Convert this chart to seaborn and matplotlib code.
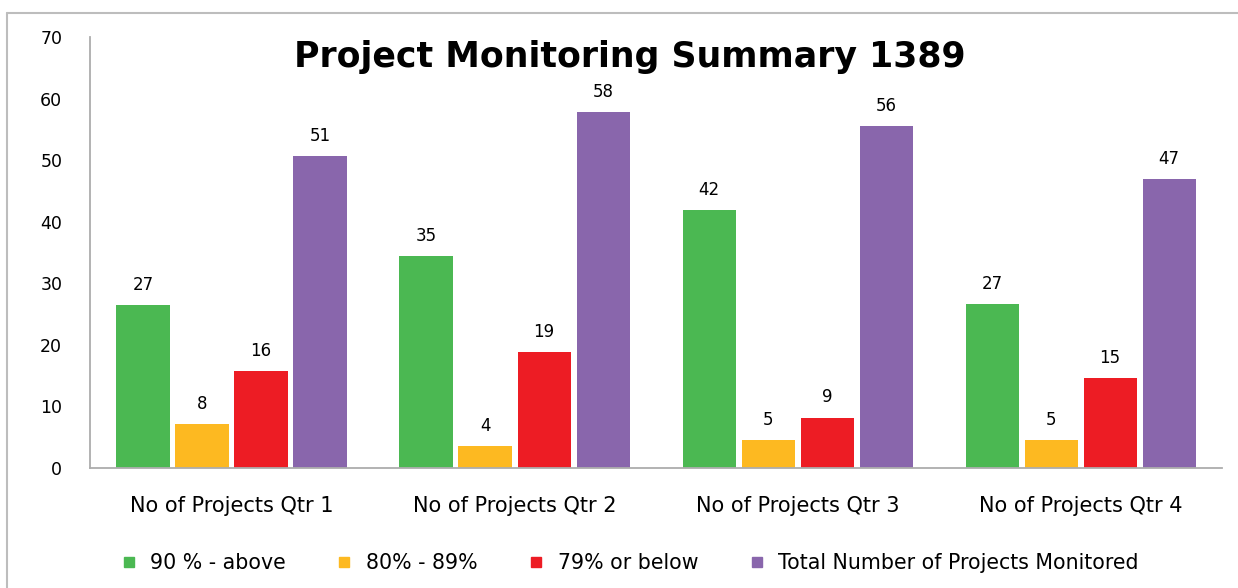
import matplotlib
matplotlib.use('Agg')
import matplotlib.pyplot as plt
from matplotlib.lines import Line2D
import seaborn as sns
import pandas as pd


quarters = ["No of Projects Qtr 1", "No of Projects Qtr 2", "No of Projects Qtr 3", "No of Projects Qtr 4"]
series = ["90 % - above", "80% - 89%", "79% or below", "Total Number of Projects Monitored"]

# bar heights, labels as printed above the bars
above_90 = [26.4, 34.5, 41.9, 26.6]
range_80_89 = [7.2, 3.5, 4.5, 4.5]
below_79 = [15.7, 18.8, 8.2, 14.6]
total = [50.6, 57.8, 55.6, 46.9]

label_above_90 = ["27", "35", "42", "27"]
label_80_89 = ["8", "4", "5", "5"]
label_below_79 = ["16", "19", "9", "15"]
label_total = ["51", "58", "56", "47"]

colors = ["#4BB852", "#FDB921", "#ED1C24", "#8966AC"]

df = pd.DataFrame({
    "quarter": quarters * 4,
    "series": [s for s in series for _ in quarters],
    "value": above_90 + range_80_89 + below_79 + total,
})
labels = [label_above_90, label_80_89, label_below_79, label_total]

sns.set_style("white")
plt.rcParams['font.family'] = ['DejaVu Sans']
plt.rcParams['text.color'] = 'black'
plt.rcParams['xtick.color'] = 'black'
plt.rcParams['ytick.color'] = 'black'

fig = plt.figure(figsize = (12.38, 5.88), dpi = 100)
ax = fig.add_axes([0.0727, 0.204, 0.9145, 0.733])

sns.barplot(data = df, x = "quarter", y = "value", hue = "series", order = quarters,
            hue_order = series, palette = colors, width = 0.834, gap = 0.1,
            saturation = 1, errorbar = None, legend = False, linewidth = 0, ax = ax)

for cont, labs in zip(ax.containers, labels):
    ax.bar_label(cont, labels = labs, padding = 8, fontsize = 12, color = 'black')

ax.set_ylim(0, 70)
ax.set_yticks(range(0, 71, 10))
ax.set_xlabel('')
ax.set_ylabel('')
ax.tick_params(axis = 'y', length = 0, pad = 20, labelsize = 12.5)
ax.tick_params(axis = 'x', length = 0, pad = 20, labelsize = 15)

for side in ['top', 'right']:
    ax.spines[side].set_visible(False)
for side in ['left', 'bottom']:
    ax.spines[side].set_color('#ADADAD')
    ax.spines[side].set_linewidth(1.3)

fig.text(0.509, 0.903, "Project Monitoring Summary 1389", ha = 'center', va = 'center',
         fontsize = 25, fontweight = 'bold', color = 'black')

# outer frame (top and left edges only visible)
fig.add_artist(Line2D([0.006, 1.0], [0.978, 0.978], color = '#BDBDBD', lw = 1.5))
fig.add_artist(Line2D([0.006, 0.006], [0.0, 0.978], color = '#BDBDBD', lw = 1.5))

handles = [Line2D([], [], marker = 's', linestyle = '', color = c, markersize = 7) for c in colors]
fig.legend(handles, series, loc = 'center', bbox_to_anchor = (0.509, 0.043), ncol = 4,
           frameon = False, fontsize = 14.8, handlelength = 0.7, handletextpad = 0.7,
           columnspacing = 2.5)

fig.savefig('out.png', dpi = 100)
plt.close(fig)
